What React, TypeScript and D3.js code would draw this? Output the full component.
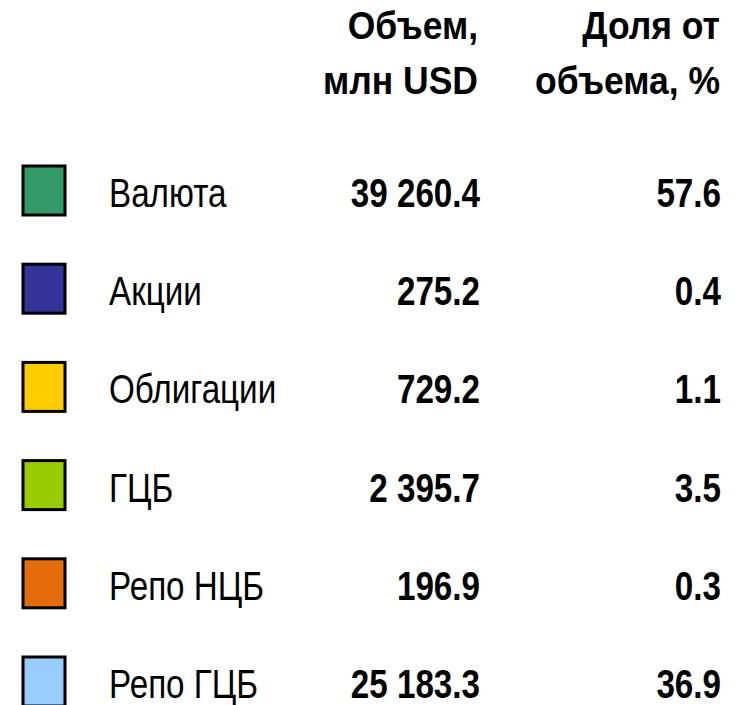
import React from "react";
import * as d3 from "d3";

const categories = ["Валюта", "Акции", "Облигации", "ГЦБ", "Репо НЦБ", "Репо ГЦБ"];
const volumes = [39260.4, 275.2, 729.2, 2395.7, 196.9, 25183.3];
const shares = [57.6, 0.4, 1.1, 3.5, 0.3, 36.9];
const colors = ["#339966", "#333399", "#FFCC00", "#99CC00", "#E46C0A", "#99CCFF"];
const headerVolume = ["Объем,", "млн USD"];
const headerShare = ["Доля от", "объема, %"];

const width = 740;
const height = 705;
// no Arial Narrow offline, so squeeze Liberation Sans horizontally
const font = "'Liberation Sans', Arial, sans-serif";
const rowSqueeze = 0.83;
const headSqueeze = 0.91;

// "39 260.4" style: space as thousands separator
const fmtVolume = (v: number) => d3.format(",.1f")(v).replace(/,/g, " ");
const fmtShare = d3.format(".1f");

const Txt = (props: { x: number; y: number; k: number; anchor?: string; bold?: boolean; children: React.ReactNode }) => (
  <text
    transform={`translate(${props.x},${props.y}) scale(${props.k},1)`}
    textAnchor={props.anchor || "start"}
    fontWeight={props.bold ? "bold" : "normal"}
  >
    {props.children}
  </text>
);

const App = () => {
  const y = d3.scalePoint<string>().domain(categories).range([207, 698]);
  const colVolume = 480;
  const colShare = 721;

  return (
    <svg width={width} height={height} style={{ position: "absolute", left: 0, top: 0 }}>
      <rect width={width} height={height} fill="#fff" />
      <g fontFamily={font} fontSize={39} fill="#000">
        {headerVolume.map((t, i) => (
          <Txt key={"v" + i} x={colVolume - 2} y={39 + i * 55} k={headSqueeze} anchor="end" bold>
            {t}
          </Txt>
        ))}
        {headerShare.map((t, i) => (
          <Txt key={"s" + i} x={colShare - 1} y={39 + i * 55} k={headSqueeze} anchor="end" bold>
            {t}
          </Txt>
        ))}
      </g>
      {categories.map((c, i) => {
        const yy = y(c) as number;
        return (
          <g key={c} fontFamily={font} fontSize={40} fill="#000">
            <rect x={23} y={yy - 41} width={42} height={49} fill={colors[i]} stroke="#000" strokeWidth={3} />
            <Txt x={109} y={yy} k={rowSqueeze}>
              {c}
            </Txt>
            <Txt x={colVolume} y={yy} k={rowSqueeze} anchor="end" bold>
              {fmtVolume(volumes[i])}
            </Txt>
            <Txt x={colShare} y={yy} k={rowSqueeze} anchor="end" bold>
              {fmtShare(shares[i])}
            </Txt>
          </g>
        );
      })}
    </svg>
  );
};

export default App;
